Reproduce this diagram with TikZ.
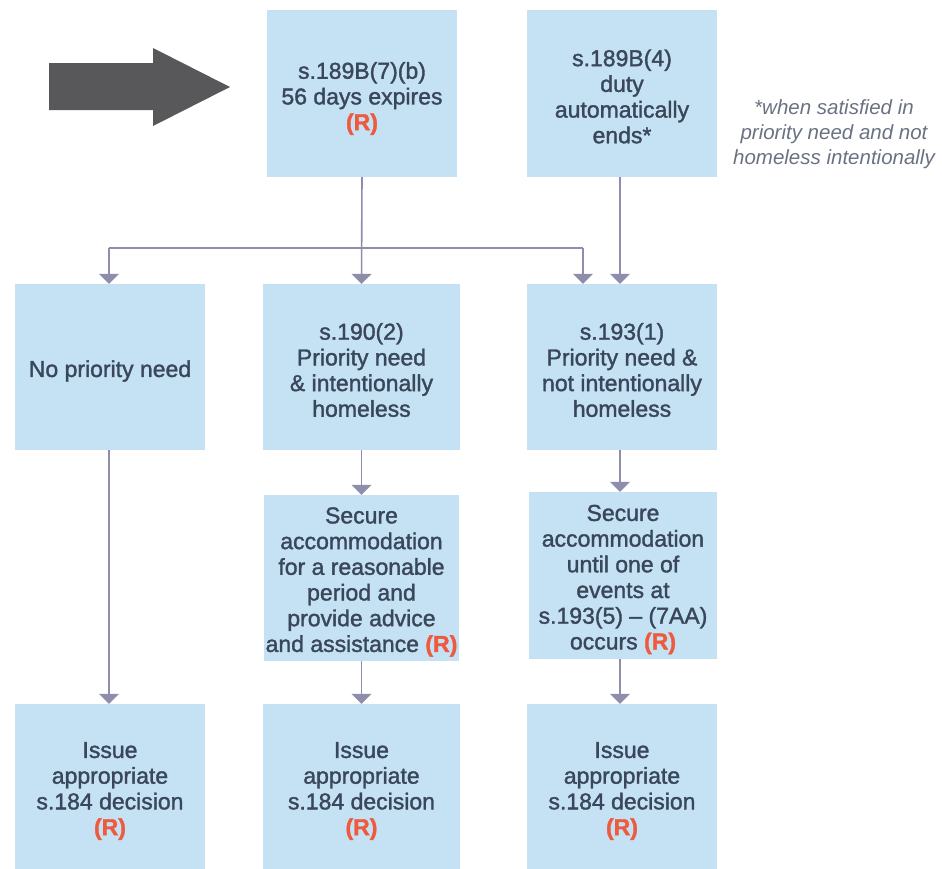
\documentclass[tikz,border=0pt]{standalone}
\usepackage{fontspec}
\setmainfont{Liberation Sans}
\newfontfamily\boxfont{Liberation Sans}[FakeBold=1.5]
\newfontfamily\notefont{Liberation Sans}
\usetikzlibrary{arrows.meta}
\definecolor{boxfill}{HTML}{C4E2F3}
\definecolor{boxtext}{HTML}{3A475A}
\definecolor{rcol}{HTML}{EE5A3E}
\definecolor{conn}{HTML}{8E8EAC}
\definecolor{bigarrow}{HTML}{58585A}
\definecolor{notecol}{HTML}{6A7282}
\newcommand{\Rmark}{{\color{rcol}\bfseries (R)}}
\tikzset{
  boxbg/.style={fill=boxfill, draw=none, inner sep=0pt},
  boxtxt/.style={inner sep=0pt, align=center,
    text=boxtext, font={\boxfont\fontsize{23}{25.7}\selectfont}},
  link/.style={draw=conn, line width=1.6pt},
  arr/.style={link, -{Triangle[width=20pt,length=10pt]}},
  note/.style={align=center, text=notecol, font={\notefont\itshape\fontsize{20.5}{25}\selectfont}}
}
\begin{document}
\begin{tikzpicture}[x=1pt,y=-1pt]
\useasboundingbox (0,0) rectangle (942,868);
% big arrow
\fill[bigarrow] (49,63) -- (153,63) -- (153,48) -- (230,87) -- (153,126) -- (153,110) -- (49,110) -- cycle;
% boxes
\node[boxbg, minimum width=190pt, minimum height=167pt] (A) at (362,93.5) {};
\node[boxbg, minimum width=190pt, minimum height=167pt] (B) at (622,93.5) {};
\node[boxbg, minimum width=190pt, minimum height=166pt] (C) at (110,367) {};
\node[boxbg, minimum width=197pt, minimum height=166pt] (D) at (361.5,367) {};
\node[boxbg, minimum width=190pt, minimum height=166pt] (E) at (622,367) {};
\node[boxbg, minimum width=195pt, minimum height=166pt] (F) at (361.5,578) {};
\node[boxbg, minimum width=188pt, minimum height=167pt] (G) at (623,575.5) {};
\node[boxbg, minimum width=190pt, minimum height=166pt] (H) at (110,787) {};
\node[boxbg, minimum width=197pt, minimum height=166pt] (I) at (361.5,787) {};
\node[boxbg, minimum width=190pt, minimum height=166pt] (J) at (622,787) {};
% box texts
\node[boxtxt] (At) at ([yshift=-5pt]A.center) {s.189B(7)(b)\\56 days expires\\\Rmark};
\node[boxtxt] (Bt) at ([yshift=-3pt]B.center) {s.189B(4)\\duty\\automatically\\ends*};
\node[note] (N) at (834,134) {*when satisfied in\\priority need and not\\homeless intentionally};
\node[boxtxt] (Ct) at ([yshift=-4pt]C.center) {No priority need};
\node[boxtxt] (Dt) at ([yshift=-3pt]D.center) {s.190(2)\\Priority need\\\& intentionally\\homeless};
\node[boxtxt] (Et) at ([yshift=-3pt]E.center) {s.193(1)\\Priority need \&\\not intentionally\\homeless};
\node[boxtxt] (Ft) at ([yshift=-4pt]F.center) {Secure\\accommodation\\for a reasonable\\period and\\provide advice\\and assistance \Rmark};
\node[boxtxt] (Gt) at ([yshift=-4pt]G.center) {Secure\\accommodation\\until one of\\events at\\s.193(5) – (7AA)\\occurs \Rmark};
\node[boxtxt] (Ht) at ([yshift=-4pt]H.center) {Issue\\appropriate\\s.184 decision\\\Rmark};
\node[boxtxt] (It) at ([yshift=-4pt]I.center) {Issue\\appropriate\\s.184 decision\\\Rmark};
\node[boxtxt] (Jt) at ([yshift=-4pt]J.center) {Issue\\appropriate\\s.184 decision\\\Rmark};
% connectors
\coordinate (hL) at (109,248);
\coordinate (hR) at (583,248);
\draw[link] (hL) -- (hR);
\draw[arr] (A.south) -- (D.north);
\draw[arr] (hL) -- (hL |- C.north);
\draw[arr] (hR) -- (hR |- E.north);
\draw[arr] ([xshift=-2pt]B.south) -- ([xshift=-2pt]E.north);
\draw[arr] ([xshift=-1pt]C.south) -- ([xshift=-1pt]H.north);
\draw[arr] (D.south) -- (F.north);
\draw[arr] ([xshift=-2pt]E.south) -- ([xshift=-3pt]G.north);
\draw[arr] (F.south) -- (I.north);
\draw[arr] ([xshift=-3pt]G.south) -- ([xshift=-2pt]J.north);
\end{tikzpicture}
\end{document}
